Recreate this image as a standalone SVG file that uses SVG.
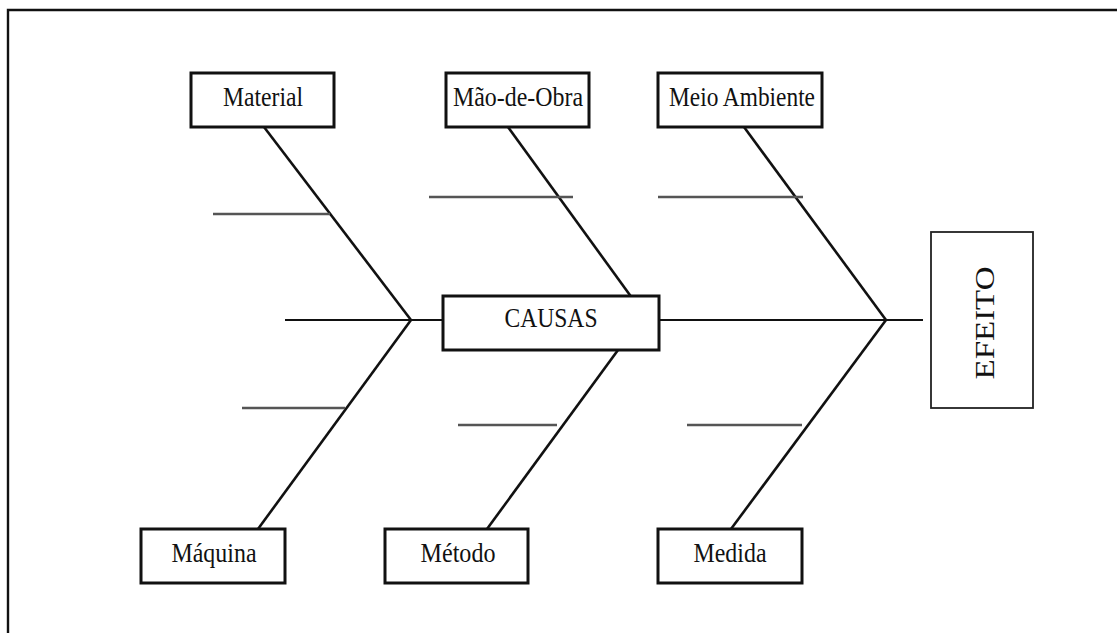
<svg xmlns="http://www.w3.org/2000/svg" width="1117" height="633" viewBox="0 0 1117 633">
  <style>
    .box { fill: #fff; stroke: #111; stroke-width: 3; }
    .thin { fill: #fff; stroke: #222; stroke-width: 1.8; }
    .bone { stroke: #111; stroke-width: 2.6; fill: none; }
    .spine { stroke: #111; stroke-width: 1.8; fill: none; }
    .sub { stroke: #555; stroke-width: 2.6; fill: none; }
    .lbl { font-family: "Liberation Serif", "Times New Roman", serif; font-size: 27px; fill: #111; text-anchor: middle; }
  </style>

  <rect width="1117" height="633" fill="#fff"/>
  <!-- page frame (top and left edges) -->
  <path d="M8,633 V10 H1117" fill="none" stroke="#111" stroke-width="2.4"/>

  <g id="connectors">
    <!-- main spine -->
    <line class="spine" x1="285" y1="320" x2="923" y2="320"/>
    <!-- left pair -->
    <line class="bone" x1="264" y1="127" x2="411" y2="320"/>
    <line class="bone" x1="258" y1="529" x2="411" y2="320"/>
    <!-- middle pair -->
    <line class="bone" x1="508" y1="127" x2="648" y2="320"/>
    <line class="bone" x1="487" y1="529" x2="640" y2="320"/>
    <!-- right pair -->
    <line class="bone" x1="744" y1="127" x2="886" y2="320"/>
    <line class="bone" x1="731" y1="529" x2="886" y2="320"/>
    <!-- minor causes -->
    <line class="sub" x1="213" y1="214" x2="330" y2="214"/>
    <line class="sub" x1="429" y1="197" x2="573" y2="197"/>
    <line class="sub" x1="658" y1="197" x2="803" y2="197"/>
    <line class="sub" x1="242" y1="408" x2="345" y2="408"/>
    <line class="sub" x1="458" y1="425" x2="557" y2="425"/>
    <line class="sub" x1="687" y1="425" x2="802" y2="425"/>
  </g>

  <g id="material">
    <rect class="box" x="191" y="73" width="143" height="54"/>
    <text class="lbl" x="263" y="106" textLength="80" lengthAdjust="spacingAndGlyphs">Material</text>
  </g>
  <g id="mao-de-obra">
    <rect class="box" x="446" y="73" width="143" height="54"/>
    <text class="lbl" x="518" y="106" textLength="130" lengthAdjust="spacingAndGlyphs">Mão-de-Obra</text>
  </g>
  <g id="meio-ambiente">
    <rect class="box" x="658" y="73" width="164" height="54"/>
    <text class="lbl" x="742" y="106" textLength="146" lengthAdjust="spacingAndGlyphs">Meio Ambiente</text>
  </g>
  <g id="causas">
    <rect class="box" x="443" y="296" width="216" height="54"/>
    <text class="lbl" x="551" y="327" textLength="93" lengthAdjust="spacingAndGlyphs">CAUSAS</text>
  </g>
  <g id="maquina">
    <rect class="box" x="141" y="529" width="144" height="54"/>
    <text class="lbl" x="214" y="562" textLength="85" lengthAdjust="spacingAndGlyphs">Máquina</text>
  </g>
  <g id="metodo">
    <rect class="box" x="385" y="529" width="143" height="54"/>
    <text class="lbl" x="458" y="562" textLength="75" lengthAdjust="spacingAndGlyphs">Método</text>
  </g>
  <g id="medida">
    <rect class="box" x="658" y="529" width="144" height="54"/>
    <text class="lbl" x="730" y="562" textLength="73" lengthAdjust="spacingAndGlyphs">Medida</text>
  </g>
  <g id="efeito">
    <rect class="thin" x="931" y="232" width="102" height="176"/>
    <text class="lbl" x="0" y="0" font-size="32" transform="translate(994,323) rotate(-90)" textLength="113" lengthAdjust="spacingAndGlyphs">EFEITO</text>
  </g>
</svg>
